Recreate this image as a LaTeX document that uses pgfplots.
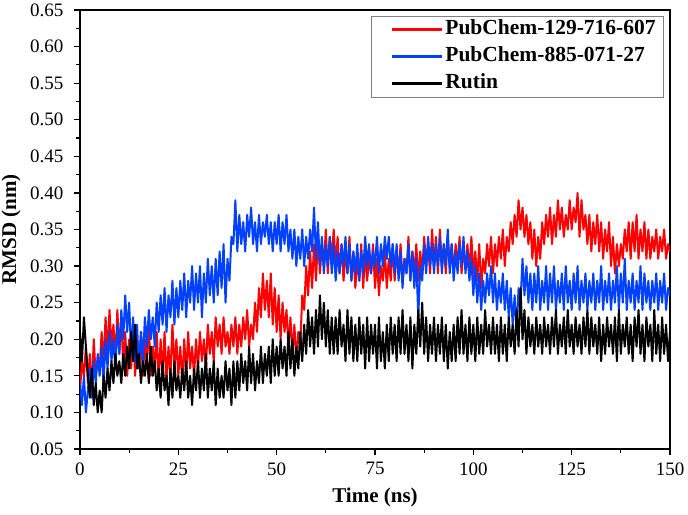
\documentclass[border=0pt]{standalone}
\usepackage{fontspec}
\setmainfont{Liberation Serif}
\usepackage{pgfplots}
\usepackage{pgfplotstable}
\pgfplotsset{compat=1.18}
\definecolor{cred}{RGB}{255,0,0}
\definecolor{cblue}{RGB}{0,64,255}

\pgfplotstableread[row sep=\\]{
y\\
0.13\\ 0.17\\ 0.15\\ 0.19\\ 0.14\\ 0.18\\ 0.13\\ 0.20\\ 0.15\\ 0.17\\
0.16\\ 0.21\\ 0.17\\ 0.23\\ 0.18\\ 0.24\\ 0.19\\ 0.22\\ 0.17\\ 0.24\\
0.18\\ 0.23\\ 0.16\\ 0.21\\ 0.15\\ 0.20\\ 0.16\\ 0.22\\ 0.15\\ 0.19\\
0.16\\ 0.21\\ 0.15\\ 0.20\\ 0.17\\ 0.22\\ 0.15\\ 0.19\\ 0.16\\ 0.21\\
0.14\\ 0.20\\ 0.15\\ 0.21\\ 0.14\\ 0.19\\ 0.15\\ 0.22\\ 0.16\\ 0.20\\
0.15\\ 0.19\\ 0.14\\ 0.20\\ 0.15\\ 0.21\\ 0.16\\ 0.19\\ 0.15\\ 0.20\\
0.16\\ 0.21\\ 0.17\\ 0.20\\ 0.16\\ 0.22\\ 0.18\\ 0.21\\ 0.17\\ 0.23\\
0.19\\ 0.22\\ 0.18\\ 0.23\\ 0.19\\ 0.21\\ 0.18\\ 0.22\\ 0.19\\ 0.23\\
0.18\\ 0.22\\ 0.19\\ 0.23\\ 0.20\\ 0.24\\ 0.19\\ 0.22\\ 0.20\\ 0.25\\
0.21\\ 0.27\\ 0.23\\ 0.29\\ 0.24\\ 0.28\\ 0.23\\ 0.29\\ 0.22\\ 0.27\\
0.21\\ 0.26\\ 0.20\\ 0.25\\ 0.21\\ 0.24\\ 0.19\\ 0.23\\ 0.18\\ 0.22\\
0.17\\ 0.21\\ 0.19\\ 0.26\\ 0.24\\ 0.30\\ 0.26\\ 0.32\\ 0.27\\ 0.33\\
0.28\\ 0.34\\ 0.29\\ 0.33\\ 0.30\\ 0.35\\ 0.29\\ 0.34\\ 0.31\\ 0.35\\
0.30\\ 0.34\\ 0.29\\ 0.33\\ 0.28\\ 0.32\\ 0.29\\ 0.34\\ 0.28\\ 0.32\\
0.27\\ 0.31\\ 0.28\\ 0.33\\ 0.27\\ 0.32\\ 0.28\\ 0.31\\ 0.29\\ 0.33\\
0.27\\ 0.31\\ 0.26\\ 0.30\\ 0.28\\ 0.32\\ 0.27\\ 0.31\\ 0.28\\ 0.33\\
0.28\\ 0.32\\ 0.29\\ 0.33\\ 0.28\\ 0.31\\ 0.29\\ 0.34\\ 0.28\\ 0.32\\
0.29\\ 0.33\\ 0.28\\ 0.32\\ 0.29\\ 0.34\\ 0.30\\ 0.33\\ 0.29\\ 0.35\\
0.30\\ 0.34\\ 0.29\\ 0.35\\ 0.30\\ 0.33\\ 0.29\\ 0.34\\ 0.30\\ 0.33\\
0.29\\ 0.33\\ 0.30\\ 0.34\\ 0.29\\ 0.32\\ 0.30\\ 0.33\\ 0.29\\ 0.34\\
0.29\\ 0.32\\ 0.28\\ 0.33\\ 0.27\\ 0.31\\ 0.29\\ 0.33\\ 0.30\\ 0.34\\
0.29\\ 0.33\\ 0.30\\ 0.34\\ 0.31\\ 0.35\\ 0.30\\ 0.34\\ 0.32\\ 0.36\\
0.33\\ 0.37\\ 0.34\\ 0.39\\ 0.35\\ 0.38\\ 0.34\\ 0.37\\ 0.33\\ 0.36\\
0.31\\ 0.35\\ 0.30\\ 0.34\\ 0.31\\ 0.36\\ 0.33\\ 0.37\\ 0.34\\ 0.38\\
0.33\\ 0.37\\ 0.34\\ 0.39\\ 0.35\\ 0.38\\ 0.34\\ 0.37\\ 0.35\\ 0.39\\
0.35\\ 0.38\\ 0.36\\ 0.40\\ 0.34\\ 0.39\\ 0.35\\ 0.37\\ 0.33\\ 0.37\\
0.32\\ 0.36\\ 0.33\\ 0.37\\ 0.32\\ 0.36\\ 0.31\\ 0.35\\ 0.32\\ 0.36\\
0.30\\ 0.34\\ 0.29\\ 0.33\\ 0.30\\ 0.33\\ 0.31\\ 0.35\\ 0.32\\ 0.36\\
0.31\\ 0.36\\ 0.32\\ 0.37\\ 0.31\\ 0.35\\ 0.32\\ 0.36\\ 0.31\\ 0.35\\
0.31\\ 0.34\\ 0.32\\ 0.35\\ 0.31\\ 0.34\\ 0.32\\ 0.35\\ 0.31\\ 0.33\\
0.32\\
}\redtab

\pgfplotstableread[row sep=\\]{
y\\
0.14\\ 0.11\\ 0.15\\ 0.10\\ 0.13\\ 0.16\\ 0.12\\ 0.17\\ 0.14\\ 0.18\\
0.15\\ 0.19\\ 0.14\\ 0.20\\ 0.16\\ 0.21\\ 0.17\\ 0.20\\ 0.16\\ 0.22\\
0.18\\ 0.24\\ 0.20\\ 0.26\\ 0.21\\ 0.25\\ 0.18\\ 0.23\\ 0.17\\ 0.22\\
0.16\\ 0.21\\ 0.17\\ 0.23\\ 0.19\\ 0.24\\ 0.20\\ 0.23\\ 0.19\\ 0.25\\
0.21\\ 0.26\\ 0.22\\ 0.27\\ 0.21\\ 0.26\\ 0.23\\ 0.28\\ 0.22\\ 0.27\\
0.23\\ 0.28\\ 0.24\\ 0.29\\ 0.23\\ 0.28\\ 0.25\\ 0.30\\ 0.24\\ 0.29\\
0.25\\ 0.30\\ 0.23\\ 0.29\\ 0.25\\ 0.31\\ 0.26\\ 0.30\\ 0.25\\ 0.31\\
0.26\\ 0.32\\ 0.27\\ 0.33\\ 0.25\\ 0.31\\ 0.28\\ 0.34\\ 0.33\\ 0.39\\
0.32\\ 0.37\\ 0.33\\ 0.36\\ 0.32\\ 0.37\\ 0.34\\ 0.38\\ 0.33\\ 0.36\\
0.32\\ 0.37\\ 0.33\\ 0.36\\ 0.34\\ 0.37\\ 0.33\\ 0.36\\ 0.32\\ 0.36\\
0.33\\ 0.37\\ 0.32\\ 0.36\\ 0.33\\ 0.37\\ 0.32\\ 0.35\\ 0.31\\ 0.35\\
0.30\\ 0.34\\ 0.31\\ 0.35\\ 0.30\\ 0.34\\ 0.31\\ 0.35\\ 0.32\\ 0.38\\
0.31\\ 0.36\\ 0.30\\ 0.34\\ 0.29\\ 0.33\\ 0.30\\ 0.34\\ 0.29\\ 0.33\\
0.28\\ 0.32\\ 0.29\\ 0.33\\ 0.30\\ 0.34\\ 0.29\\ 0.33\\ 0.28\\ 0.32\\
0.29\\ 0.33\\ 0.28\\ 0.32\\ 0.29\\ 0.34\\ 0.30\\ 0.33\\ 0.29\\ 0.32\\
0.30\\ 0.34\\ 0.29\\ 0.33\\ 0.30\\ 0.34\\ 0.31\\ 0.34\\ 0.30\\ 0.33\\
0.29\\ 0.33\\ 0.28\\ 0.32\\ 0.27\\ 0.31\\ 0.29\\ 0.33\\ 0.28\\ 0.32\\
0.27\\ 0.31\\ 0.23\\ 0.30\\ 0.28\\ 0.33\\ 0.29\\ 0.34\\ 0.30\\ 0.33\\
0.29\\ 0.33\\ 0.30\\ 0.34\\ 0.29\\ 0.33\\ 0.30\\ 0.35\\ 0.29\\ 0.33\\
0.28\\ 0.32\\ 0.29\\ 0.33\\ 0.30\\ 0.34\\ 0.29\\ 0.32\\ 0.28\\ 0.31\\
0.26\\ 0.30\\ 0.25\\ 0.29\\ 0.24\\ 0.28\\ 0.25\\ 0.29\\ 0.26\\ 0.30\\
0.25\\ 0.29\\ 0.24\\ 0.28\\ 0.25\\ 0.29\\ 0.24\\ 0.28\\ 0.23\\ 0.27\\
0.22\\ 0.26\\ 0.21\\ 0.27\\ 0.25\\ 0.31\\ 0.26\\ 0.30\\ 0.25\\ 0.29\\
0.24\\ 0.29\\ 0.25\\ 0.30\\ 0.24\\ 0.28\\ 0.25\\ 0.30\\ 0.24\\ 0.29\\
0.25\\ 0.30\\ 0.24\\ 0.28\\ 0.25\\ 0.29\\ 0.24\\ 0.30\\ 0.25\\ 0.28\\
0.24\\ 0.29\\ 0.25\\ 0.30\\ 0.24\\ 0.28\\ 0.25\\ 0.29\\ 0.24\\ 0.28\\
0.25\\ 0.29\\ 0.24\\ 0.28\\ 0.25\\ 0.30\\ 0.24\\ 0.28\\ 0.25\\ 0.29\\
0.24\\ 0.28\\ 0.25\\ 0.30\\ 0.24\\ 0.29\\ 0.25\\ 0.31\\ 0.24\\ 0.28\\
0.25\\ 0.29\\ 0.24\\ 0.28\\ 0.25\\ 0.30\\ 0.24\\ 0.29\\ 0.25\\ 0.28\\
0.24\\ 0.28\\ 0.25\\ 0.29\\ 0.24\\ 0.28\\ 0.25\\ 0.29\\ 0.24\\ 0.27\\
0.26\\
}\bluetab

\pgfplotstableread[row sep=\\]{
y\\
0.21\\ 0.17\\ 0.23\\ 0.19\\ 0.15\\ 0.12\\ 0.16\\ 0.11\\ 0.14\\ 0.10\\
0.13\\ 0.10\\ 0.15\\ 0.12\\ 0.16\\ 0.13\\ 0.17\\ 0.14\\ 0.18\\ 0.15\\
0.17\\ 0.14\\ 0.18\\ 0.15\\ 0.19\\ 0.16\\ 0.21\\ 0.17\\ 0.22\\ 0.16\\
0.18\\ 0.14\\ 0.17\\ 0.15\\ 0.18\\ 0.14\\ 0.19\\ 0.15\\ 0.17\\ 0.13\\
0.16\\ 0.12\\ 0.17\\ 0.13\\ 0.15\\ 0.11\\ 0.16\\ 0.12\\ 0.17\\ 0.13\\
0.15\\ 0.12\\ 0.16\\ 0.13\\ 0.17\\ 0.12\\ 0.15\\ 0.11\\ 0.16\\ 0.13\\
0.17\\ 0.12\\ 0.16\\ 0.13\\ 0.18\\ 0.12\\ 0.16\\ 0.13\\ 0.17\\ 0.11\\
0.16\\ 0.12\\ 0.15\\ 0.12\\ 0.17\\ 0.13\\ 0.16\\ 0.11\\ 0.17\\ 0.12\\
0.17\\ 0.13\\ 0.18\\ 0.14\\ 0.17\\ 0.13\\ 0.19\\ 0.14\\ 0.18\\ 0.13\\
0.17\\ 0.14\\ 0.19\\ 0.14\\ 0.18\\ 0.15\\ 0.19\\ 0.14\\ 0.20\\ 0.15\\
0.19\\ 0.15\\ 0.20\\ 0.16\\ 0.19\\ 0.15\\ 0.21\\ 0.16\\ 0.20\\ 0.15\\
0.19\\ 0.16\\ 0.21\\ 0.17\\ 0.22\\ 0.18\\ 0.24\\ 0.19\\ 0.23\\ 0.18\\
0.24\\ 0.19\\ 0.26\\ 0.20\\ 0.25\\ 0.19\\ 0.24\\ 0.18\\ 0.23\\ 0.18\\
0.23\\ 0.18\\ 0.24\\ 0.19\\ 0.22\\ 0.17\\ 0.24\\ 0.18\\ 0.23\\ 0.17\\
0.22\\ 0.17\\ 0.23\\ 0.18\\ 0.22\\ 0.16\\ 0.23\\ 0.17\\ 0.22\\ 0.18\\
0.22\\ 0.16\\ 0.23\\ 0.17\\ 0.21\\ 0.16\\ 0.22\\ 0.17\\ 0.23\\ 0.18\\
0.22\\ 0.17\\ 0.23\\ 0.18\\ 0.24\\ 0.18\\ 0.22\\ 0.17\\ 0.23\\ 0.16\\
0.22\\ 0.18\\ 0.24\\ 0.19\\ 0.25\\ 0.18\\ 0.23\\ 0.17\\ 0.22\\ 0.18\\
0.23\\ 0.17\\ 0.22\\ 0.18\\ 0.23\\ 0.17\\ 0.22\\ 0.16\\ 0.21\\ 0.17\\
0.22\\ 0.17\\ 0.23\\ 0.18\\ 0.24\\ 0.18\\ 0.22\\ 0.17\\ 0.23\\ 0.18\\
0.22\\ 0.17\\ 0.23\\ 0.18\\ 0.22\\ 0.18\\ 0.24\\ 0.19\\ 0.22\\ 0.18\\
0.23\\ 0.18\\ 0.22\\ 0.17\\ 0.23\\ 0.18\\ 0.22\\ 0.17\\ 0.23\\ 0.19\\
0.22\\ 0.18\\ 0.24\\ 0.19\\ 0.27\\ 0.20\\ 0.24\\ 0.18\\ 0.23\\ 0.19\\
0.22\\ 0.18\\ 0.23\\ 0.19\\ 0.22\\ 0.18\\ 0.23\\ 0.19\\ 0.22\\ 0.18\\
0.23\\ 0.19\\ 0.24\\ 0.18\\ 0.22\\ 0.19\\ 0.23\\ 0.18\\ 0.24\\ 0.19\\
0.22\\ 0.18\\ 0.23\\ 0.19\\ 0.22\\ 0.18\\ 0.23\\ 0.19\\ 0.24\\ 0.18\\
0.23\\ 0.19\\ 0.22\\ 0.18\\ 0.23\\ 0.17\\ 0.22\\ 0.18\\ 0.23\\ 0.19\\
0.22\\ 0.18\\ 0.23\\ 0.17\\ 0.24\\ 0.18\\ 0.22\\ 0.19\\ 0.23\\ 0.18\\
0.22\\ 0.17\\ 0.23\\ 0.19\\ 0.24\\ 0.18\\ 0.22\\ 0.17\\ 0.23\\ 0.19\\
0.22\\ 0.17\\ 0.24\\ 0.18\\ 0.22\\ 0.17\\ 0.23\\ 0.18\\ 0.22\\ 0.17\\
0.21\\
}\blacktab

\begin{document}
\begin{tikzpicture}
\begin{axis}[
  name=ax,
  scale only axis,
  width=590pt, height=439pt,
  xmin=0, xmax=150, ymin=0.05, ymax=0.65,
  xtick={0,25,...,150},
  ytick={0.05,0.10,...,0.651},
  minor x tick num=1, minor y tick num=1,
  xtick pos=lower, ytick pos=left,
  tick align=outside,
  major tick length=6pt, minor tick length=3.5pt,
  every tick/.style={black, line width=1.2pt},
  axis line style={line width=1.6pt},
  /pgf/number format/assume math mode=true,
  yticklabel style={/pgf/number format/.cd, fixed, fixed zerofill, precision=2, /tikz/.cd, xshift=-7pt},
  xticklabel style={yshift=-4pt},
  ticklabel style={font=\fontsize{19}{21}\selectfont},
  xlabel={\textbf{Time (ns)}},
  ylabel={\textbf{RMSD (nm)}},
  xlabel style={font=\fontsize{21}{23}\selectfont, at={(axis description cs:0.5,0)}, anchor=center, yshift=-48pt},
  ylabel style={font=\fontsize{21}{23}\selectfont, at={(axis description cs:-0.117,0.5)}, anchor=center},
  legend cell align=left,
  legend style={at={(1,1)}, anchor=north east, xshift=-6pt, yshift=-6pt,
    draw=gray, line width=0.8pt, font=\fontsize{21.5}{23}\selectfont\bfseries,
    inner xsep=6pt, inner ysep=1.5pt, row sep=3pt,
    nodes={inner sep=2pt, text height=15pt, text depth=5pt}},
  legend image code/.code={\path (-13pt,0pt); \draw[#1, line width=3pt] (0pt,0pt) -- (50pt,0pt);},
]
\addplot[cred, line width=2pt, line join=round] table[x expr=\coordindex*0.5, y=y] {\redtab};
\addlegendentry{PubChem-129-716-607}
\addplot[cblue, line width=2pt, line join=round] table[x expr=\coordindex*0.5, y=y] {\bluetab};
\addlegendentry{PubChem-885-071-27}
\addplot[black, line width=2pt, line join=round] table[x expr=\coordindex*0.5, y=y] {\blacktab};
\addlegendentry{Rutin}
\end{axis}
\pgfresetboundingbox
\path ([xshift=-80pt,yshift=-65pt]ax.south west) rectangle ([xshift=18pt,yshift=10pt]ax.north east);
\end{tikzpicture}
\end{document}
